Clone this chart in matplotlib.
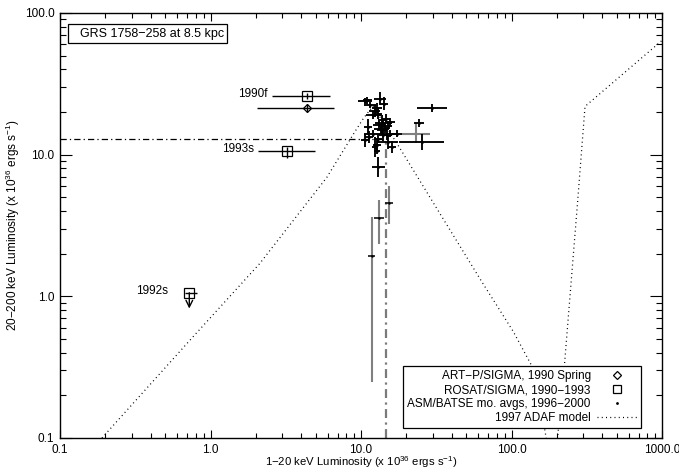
import numpy as np
import matplotlib
matplotlib.use('Agg')
import matplotlib.pyplot as plt
from matplotlib.ticker import FixedLocator, FixedFormatter, LogLocator, NullFormatter
from matplotlib.lines import Line2D
from matplotlib.patches import Rectangle

plt.rcParams['font.family'] = ['Liberation Sans', 'DejaVu Sans']
plt.rcParams['mathtext.fontset'] = 'custom'
plt.rcParams['mathtext.rm'] = 'Liberation Sans'
plt.rcParams['mathtext.default'] = 'rm'

# ---------------------------------------------------------------------------
# Data (luminosities in units of 1e36 erg/s)
# ---------------------------------------------------------------------------

# ASM/BATSE monthly averages, 1996-2000; errors are half-widths in dex
asm_x = [10.6, 13.4, 11.5, 12.7, 12.1, 13.0, 13.7, 14.1, 15.6, 11.2, 12.1, 11.35,
         13.0, 14.1, 15.6, 15.2, 12.7, 13.7, 13.0, 12.7, 29.5, 24.4, 25.3, 17.3,
         10.6, 12.4, 14.4, 14.7, 13.2, 14.8, 16.0, 11.0, 12.3, 14.2, 13.6, 15.0]
asm_y = [23.9, 24.9, 22.3, 21.2, 19.0, 19.5, 17.5, 16.6, 17.0, 15.7, 14.1, 13.3,
         13.0, 13.7, 14.1, 12.3, 11.65, 14.9, 8.2, 10.7, 21.2, 16.75, 12.3, 14.1,
         12.6, 11.3, 15.4, 18.0, 16.1, 13.7, 11.3, 24.2, 20.3, 22.9, 15.2, 16.0]
asm_xdex = [0.045, 0.039, 0.039, 0.033, 0.050, 0.027, 0.027, 0.055, 0.033, 0.027,
            0.060, 0.027, 0.027, 0.027, 0.055, 0.066, 0.027, 0.033, 0.044, 0.020,
            0.100, 0.033, 0.150, 0.033, 0.027, 0.020, 0.033, 0.027, 0.040, 0.033,
            0.027, 0.030, 0.035, 0.025, 0.045, 0.030]
asm_ydex = [0.024, 0.047, 0.020, 0.035, 0.028, 0.035, 0.035, 0.028, 0.028, 0.059,
            0.028, 0.042, 0.035, 0.042, 0.028, 0.047, 0.042, 0.035, 0.070, 0.028,
            0.028, 0.028, 0.057, 0.028, 0.049, 0.070, 0.035, 0.035, 0.030, 0.035,
            0.042, 0.025, 0.040, 0.045, 0.035, 0.030]

# poorly constrained months (grey bars)
faint_x = [11.8, 13.2, 15.35, 23.2]
faint_y = [1.93, 3.57, 4.59, 14.1]
faint_ylo = [0.25, 2.36, 3.26, 12.0]
faint_yhi = [3.63, 4.76, 5.98, 16.6]
faint_xdex = [0.023, 0.033, 0.027, 0.094]

# ROSAT/SIGMA, 1990-1993
rosat_tag = ['1990f', '1993s', '1992s']
rosat_x = [4.36, 3.24, 0.723]
rosat_y = [26.0, 10.7, 1.06]
rosat_xlo = [2.55, 2.08, 0.677]
rosat_xhi = [6.22, 4.95, 0.81]
rosat_ylo = [24.8, 9.44, 1.06]
rosat_yhi = [27.3, 11.4, 1.06]
rosat_limit = [False, False, True]
limit_floor = 0.82

# ART-P/SIGMA, 1990 spring
artp_x = [4.36]
artp_y = [21.3]
artp_xlo = [2.05]
artp_xhi = [6.65]
artp_ylo = [20.0]
artp_yhi = [22.7]

# 1997 ADAF model track
adaf_x = [0.19, 0.75, 2.13, 5.92, 9.12, 10.4, 12.0, 17.3, 31.8, 63.4, 102.8,
          143.0, 190.0, 223.0, 275.0, 308.0, 898.0, 1000.0]
adaf_y = [0.1, 0.506, 1.71, 6.9, 14.56, 18.1, 22.0, 12.05, 4.19, 1.27, 0.564,
          0.294, 0.05, 0.294, 4.66, 21.9, 58.0, 64.0]

# break luminosities
l_hard = 13.0
l_soft = 14.7


def dex_err(v, d):
    v = np.asarray(v, float)
    d = np.asarray(d, float)
    return [v - v / 10 ** d, v * 10 ** d - v]


# ---------------------------------------------------------------------------
# Figure
# ---------------------------------------------------------------------------
fig = plt.figure(figsize=(6.79, 4.72), dpi=100)
ax = fig.add_axes([60 / 679, 34 / 472, 602 / 679, 425 / 472])
ax.set_xscale('log')
ax.set_yscale('log')
ax.set_xlim(0.1, 1000)
ax.set_ylim(0.1, 100)

# model and break lines
ax.plot(adaf_x, adaf_y, color='k', lw=0.9, ls=(0, (0.8, 2.6)), zorder=1)
ax.plot([0.1, l_soft], [l_hard, l_hard], color='k', lw=0.9,
        ls=(0, (5, 2.5, 1, 2.5)), zorder=1)
ax.plot([l_soft, l_soft], [0.1, l_hard], color='#7a7a7a', lw=1.6,
        ls=(0, (4, 2, 1, 2)), zorder=1)

# ASM/BATSE points
ax.errorbar(asm_x, asm_y, xerr=dex_err(asm_x, asm_xdex), yerr=dex_err(asm_y, asm_ydex),
            fmt='.', color='k', ms=2, elinewidth=1.35, capsize=0, zorder=3)

fy = np.asarray(faint_y)
ax.errorbar(faint_x, faint_y,
            yerr=[fy - np.asarray(faint_ylo), np.asarray(faint_yhi) - fy],
            fmt='none', ecolor='#808080', elinewidth=1.5, capsize=0, zorder=2)
ax.errorbar(faint_x[:3], faint_y[:3], xerr=dex_err(faint_x[:3], faint_xdex[:3]),
            fmt='.', color='k', ms=1.5, elinewidth=1.1, capsize=0, zorder=3)
ax.errorbar(faint_x[3:], faint_y[3:], xerr=dex_err(faint_x[3:], faint_xdex[3:]),
            fmt='none', ecolor='#808080', elinewidth=1.5, capsize=0, zorder=2)

# ROSAT/SIGMA squares
rx = np.asarray(rosat_x)
ry = np.asarray(rosat_y)
ax.errorbar(rx, ry,
            xerr=[rx - np.asarray(rosat_xlo), np.asarray(rosat_xhi) - rx],
            yerr=[ry - np.asarray(rosat_ylo), np.asarray(rosat_yhi) - ry],
            fmt='s', ms=6.5, mfc='none', mec='k', mew=0.9, color='k',
            elinewidth=1.0, capsize=0, zorder=4)
for tag, x, y, xlo, lim in zip(rosat_tag, rosat_x, rosat_y, rosat_xlo, rosat_limit):
    off = -12 if lim else -3
    ax.annotate(tag, (xlo, y), xytext=(off, 1), textcoords='offset points',
                ha='right', va='center', fontsize=8.5)
    if lim:
        ax.annotate('', xy=(x, limit_floor), xytext=(x, y),
                    arrowprops=dict(arrowstyle='->', lw=1.0, color='k',
                                    mutation_scale=12, shrinkA=0, shrinkB=0))

# ART-P/SIGMA diamond
axx = np.asarray(artp_x)
ayy = np.asarray(artp_y)
ax.errorbar(axx, ayy,
            xerr=[axx - np.asarray(artp_xlo), np.asarray(artp_xhi) - axx],
            yerr=[ayy - np.asarray(artp_ylo), np.asarray(artp_yhi) - ayy],
            fmt='D', ms=4, mfc='none', mec='k', mew=0.9, color='k',
            elinewidth=1.0, capsize=0, zorder=4)

# axes styling
ax.xaxis.set_major_locator(FixedLocator([0.1, 1, 10, 100, 1000]))
ax.xaxis.set_major_formatter(FixedFormatter(['0.1', '1.0', '10.0', '100.0', '1000.0']))
ax.yaxis.set_major_locator(FixedLocator([0.1, 1, 10, 100]))
ax.yaxis.set_major_formatter(FixedFormatter(['0.1', '1.0', '10.0', '100.0']))
for axis in (ax.xaxis, ax.yaxis):
    axis.set_minor_locator(LogLocator(base=10, subs=np.arange(2, 10), numticks=20))
    axis.set_minor_formatter(NullFormatter())

ax.tick_params(which='both', direction='in', top=True, right=True,
               width=0.8, labelsize=8.5, color='k')
ax.tick_params(axis='x', which='major', length=6, pad=4)
ax.tick_params(axis='x', which='minor', length=3.5)
ax.tick_params(axis='y', which='major', length=8.5, pad=4)
ax.tick_params(axis='y', which='minor', length=4.5)
for sp in ax.spines.values():
    sp.set_linewidth(1.0)

ax.set_xlabel('1\u221220 keV Luminosity (x 10$^{36}$ ergs s$^{-1}$)', fontsize=8.2, labelpad=-1)
ax.set_ylabel('20\u2212200 keV Luminosity (x 10$^{36}$ ergs s$^{-1}$)', fontsize=8.5, labelpad=2)

# source label box
ax.add_patch(Rectangle((0.0138, 0.930), 0.263, 0.0433, transform=ax.transAxes,
                       fill=False, edgecolor='k', lw=0.9, zorder=5))
ax.text(0.033, 0.9517, 'GRS 1758\u2212258 at 8.5 kpc', transform=ax.transAxes,
        ha='left', va='center', fontsize=9, zorder=6)

# legend, marker to the right of each label
handles = [
    Line2D([], [], marker='D', ls='none', mfc='none', mec='k', ms=4, mew=0.9),
    Line2D([], [], marker='s', ls='none', mfc='none', mec='k', ms=5.5, mew=0.9),
    Line2D([], [], marker='.', ls='none', color='k', ms=2),
    Line2D([], [], color='k', lw=0.9, ls=(0, (0.8, 2.6))),
]
labels = ['ART\u2212P/SIGMA, 1990 Spring', 'ROSAT/SIGMA, 1990\u22121993',
          'ASM/BATSE mo. avgs, 1996\u22122000', '1997 ADAF model']
leg = ax.legend(handles, labels, loc='lower right', bbox_to_anchor=(0.965, 0.024),
                markerfirst=False, frameon=True, fancybox=False, edgecolor='k',
                framealpha=1, fontsize=8.5, handlelength=3.4, labelspacing=0.15,
                borderpad=0.35, handletextpad=0.5, borderaxespad=0)
leg.get_frame().set_linewidth(0.9)
leg.set_zorder(10)

fig.savefig('out.png', dpi=100)
